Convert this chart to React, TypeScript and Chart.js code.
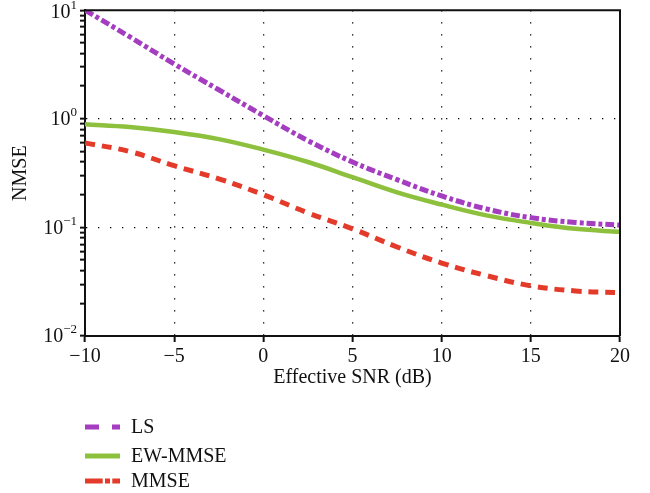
import React, { useEffect, useRef } from 'react';
import { Chart, registerables } from 'chart.js';

Chart.register(...registerables);

const snrDb = [-10, -7.5, -5, -2.5, 0, 2.5, 5, 7.5, 10, 12.5, 15, 17.5, 20];
const lsValues = [10, 5.7, 3.2, 1.85, 1.07, 0.63, 0.4, 0.275, 0.195, 0.148, 0.123, 0.111, 0.105];
const ewMmseValues = [0.89, 0.84, 0.755, 0.65, 0.52, 0.4, 0.29, 0.21, 0.162, 0.129, 0.11, 0.097, 0.091];
const mmseValues = [0.6, 0.5, 0.37, 0.28, 0.2, 0.136, 0.097, 0.066, 0.047, 0.036, 0.029, 0.026, 0.025];
const seriesLabels = ['LS', 'EW-MMSE', 'MMSE'];
const xTickValues = [-10, -5, 0, 5, 10, 15, 20];
const yExponents = [-2, -1, 0, 1];
const xTitle = 'Effective SNR (dB)';
const yTitle = 'NMSE';

const FONT = '"Liberation Serif", "Times New Roman", serif';
const colors = ['#a43dbf', '#8dc03c', '#e33a2a'];
const lineDashes = [[9, 3, 4, 3], [], [10, 7]];
const lineWidths = [5, 4.5, 5];
const legendDashes = [[14, 13], [], [17.7, 2.3, 5, 2.3, 8]];
const legendRowsY = [427, 456, 481];

const yTickValues: number[] = [];
for (let e = yExponents[0]; e < yExponents[yExponents.length - 1]; e++) {
  for (let s = 1; s <= 9; s++) yTickValues.push(Number((s * Math.pow(10, e)).toPrecision(3)));
}
yTickValues.push(Math.pow(10, yExponents[yExponents.length - 1]));

const yMin = Math.pow(10, yExponents[0]);
const yMax = Math.pow(10, yExponents[yExponents.length - 1]);

const isPow10 = (v: number) => Math.abs(Math.log10(v) - Math.round(Math.log10(v))) < 1e-9;

const framePlugin = {
  id: 'frame',
  afterDatasetsDraw(chart: any) {
    const { ctx, chartArea } = chart;
    ctx.save();
    ctx.strokeStyle = '#111';
    ctx.lineWidth = 2;
    ctx.beginPath();
    ctx.moveTo(chartArea.left, chartArea.top);
    ctx.lineTo(chartArea.right, chartArea.top);
    ctx.lineTo(chartArea.right, chartArea.bottom);
    ctx.stroke();
    ctx.restore();
  },
};

const yLabelPlugin = {
  id: 'yPowLabels',
  afterDraw(chart: any) {
    const { ctx } = chart;
    const scale = chart.scales.y;
    const rightEdge = scale.right - 8;
    ctx.save();
    ctx.fillStyle = '#111';
    ctx.textBaseline = 'middle';
    yExponents.forEach((e) => {
      const y = scale.getPixelForValue(Math.pow(10, e));
      const expText = e < 0 ? '\u2212' + Math.abs(e) : String(e);
      ctx.font = `13px ${FONT}`;
      const expW = ctx.measureText(expText).width;
      ctx.font = `20px ${FONT}`;
      const baseW = ctx.measureText('10').width;
      const x0 = rightEdge - expW - baseW;
      const yy = Math.max(y, 12);
      ctx.textAlign = 'left';
      ctx.fillText('10', x0, yy + 1);
      ctx.font = `13px ${FONT}`;
      ctx.fillText(expText, x0 + baseW, yy - 6);
    });
    ctx.restore();
  },
};

const legendPlugin = {
  id: 'customLegend',
  afterDraw(chart: any) {
    const { ctx } = chart;
    ctx.save();
    chart.data.datasets.forEach((ds: any, i: number) => {
      const y = legendRowsY[i];
      ctx.strokeStyle = ds.borderColor;
      ctx.lineWidth = 5;
      ctx.lineCap = 'butt';
      ctx.setLineDash(legendDashes[i]);
      ctx.beginPath();
      ctx.moveTo(85, y);
      ctx.lineTo(120, y);
      ctx.stroke();
      ctx.setLineDash([]);
      ctx.fillStyle = '#111';
      ctx.font = `20px ${FONT}`;
      ctx.textBaseline = 'middle';
      ctx.textAlign = 'left';
      ctx.fillText(ds.label, 131, y + 1);
    });
    ctx.restore();
  },
};

export default function App() {
  const canvasRef = useRef<HTMLCanvasElement | null>(null);

  useEffect(() => {
    if (!canvasRef.current) return;
    const seriesValues = [lsValues, ewMmseValues, mmseValues];
    const chart = new Chart(canvasRef.current, {
      type: 'line',
      data: {
        datasets: seriesValues.map((vals, i) => ({
          label: seriesLabels[i],
          data: vals.map((v, j) => ({ x: snrDb[j], y: v })),
          borderColor: colors[i],
          backgroundColor: colors[i],
          borderWidth: lineWidths[i],
          borderDash: lineDashes[i],
          borderCapStyle: 'butt',
          pointRadius: 0,
          tension: 0.4,
          fill: false,
        })),
      },
      options: {
        responsive: false,
        animation: false,
        devicePixelRatio: 1,
        layout: { padding: { left: 0, top: 10, right: 30, bottom: 0 } },
        plugins: {
          legend: { display: false },
          tooltip: { enabled: false },
        },
        scales: {
          x: {
            type: 'linear',
            min: -10,
            max: 20,
            afterBuildTicks: (scale: any) => {
              scale.ticks = xTickValues.map((v) => ({ value: v }));
            },
            afterFit: (scale: any) => {
              scale.height = 157;
            },
            ticks: {
              color: '#111',
              font: { family: FONT, size: 20 },
              padding: 3,
              maxRotation: 0,
              autoSkip: false,
              callback: (v: any) => (Number(v) < 0 ? '\u2212' + Math.abs(Number(v)) : String(v)),
            },
            grid: {
              color: (ctx: any) => {
                const v = ctx.tick && ctx.tick.value;
                return v === -10 || v === 20 ? 'rgba(0,0,0,0)' : '#000';
              },
              lineWidth: 1.3,
              tickColor: '#111',
              tickBorderDash: [],
              tickLength: 6,
              tickWidth: 2,
            },
            border: { display: true, color: '#111', width: 2, dash: [1.3, 10.7], dashOffset: 0 },
            title: {
              display: true,
              text: xTitle,
              color: '#111',
              font: { family: FONT, size: 20 },
              padding: { top: 0, bottom: 103 },
            },
          },
          y: {
            type: 'logarithmic',
            min: yMin,
            max: yMax,
            afterBuildTicks: (scale: any) => {
              scale.ticks = yTickValues.map((v) => ({ value: v, major: isPow10(v) }));
            },
            afterFit: (scale: any) => {
              scale.width = 85;
            },
            ticks: {
              autoSkip: false,
              callback: () => '',
              padding: 3,
            },
            grid: {
              color: (ctx: any) => {
                const v = ctx.tick && ctx.tick.value;
                if (v === undefined) return 'rgba(0,0,0,0)';
                return isPow10(v) && v > yMin * 1.01 && v < yMax * 0.99 ? '#000' : 'rgba(0,0,0,0)';
              },
              lineWidth: 1.3,
              tickColor: '#111',
              tickBorderDash: [],
              tickLength: 5,
              tickWidth: 2,
            },
            border: { display: true, color: '#111', width: 2, dash: [1.3, 10.7], dashOffset: 0 },
            title: {
              display: true,
              text: yTitle,
              color: '#111',
              font: { family: FONT, size: 20 },
              padding: { top: 9, bottom: 0 },
            },
          },
        },
      } as any,
      plugins: [framePlugin, yLabelPlugin, legendPlugin],
    });
    return () => chart.destroy();
  }, []);

  return (
    <div style={{ position: 'absolute', left: 0, top: 0, width: 650, height: 493, background: '#fff' }}>
      <canvas ref={canvasRef} width={650} height={493} style={{ display: 'block', width: 650, height: 493 }} />
    </div>
  );
}
